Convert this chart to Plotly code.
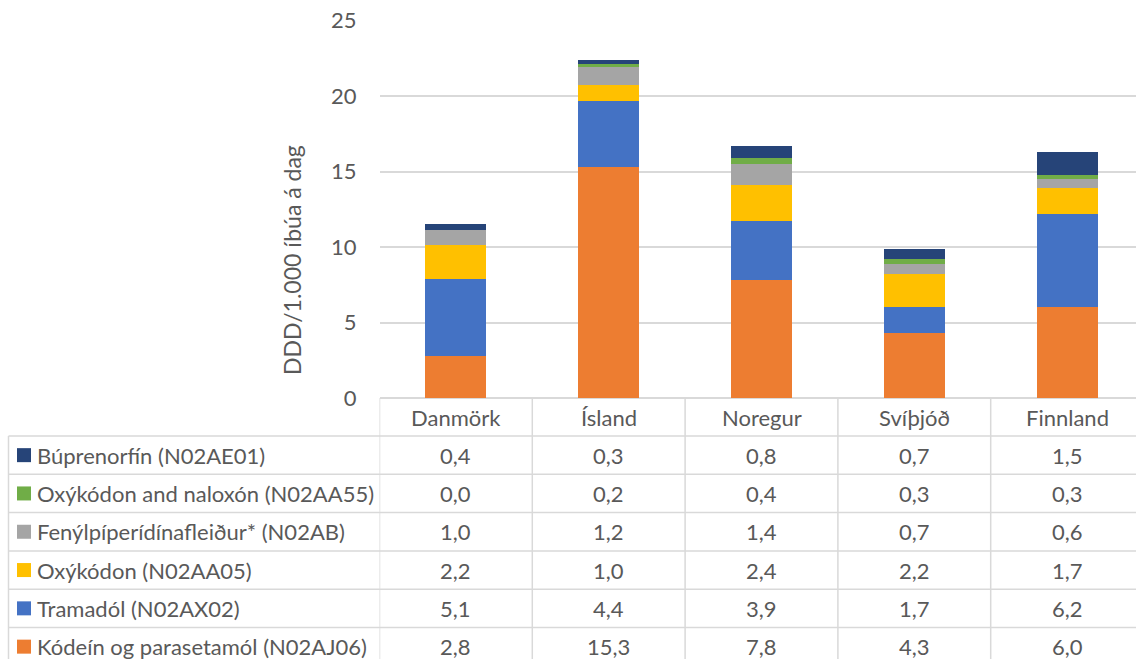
import plotly.graph_objects as go

# Countries (columns of the data table / x categories)
countries = ["Danmörk", "Ísland", "Noregur", "Svíþjóð", "Finnland"]

# DDD per 1.000 inhabitants per day, per substance group
kodein_parasetamol = [2.8, 15.3, 7.8, 4.3, 6.0]
tramadol = [5.1, 4.4, 3.9, 1.7, 6.2]
oxykodon = [2.2, 1.0, 2.4, 2.2, 1.7]
fenylpiperidin = [1.0, 1.2, 1.4, 0.7, 0.6]
oxykodon_nalokson = [0.0, 0.2, 0.4, 0.3, 0.3]
buprenorfin = [0.4, 0.3, 0.8, 0.7, 1.5]

series_names = [
    "Kódeín og parasetamól (N02AJ06)",
    "Tramadól (N02AX02)",
    "Oxýkódon (N02AA05)",
    "Fenýlpíperídínafleiður* (N02AB)",
    "Oxýkódon and naloxón (N02AA55)",
    "Búprenorfín (N02AE01)",
]
series_values = [kodein_parasetamol, tramadol, oxykodon, fenylpiperidin,
                 oxykodon_nalokson, buprenorfin]
series_colors = ["#ED7D31", "#4472C4", "#FFC000", "#A5A5A5", "#70AD47", "#264478"]

y_ticks = [0, 5, 10, 15, 20, 25]
y_title = "DDD/1.000 íbúa á dag"

W, H = 1136, 659
FONT = "Lato"
TEXT = "#595959"
GRID = "#D9D9D9"
FS = 22

# pixel layout helpers
def px(x):
    return x / W

def py(y):
    return 1 - y / H

plot_left, plot_top, plot_bottom = 379.5, 20.5, 398.0
col_w = 152.8
table_left = 8.5
header_bottom = 436.0
row_h = 38.3

fig = go.Figure()
for name, vals, col in zip(series_names, series_values, series_colors):
    fig.add_trace(go.Bar(
        x=countries, y=vals, name=name,
        marker=dict(color=col, line=dict(width=0)),
        hoverinfo="x+y+name",
    ))

x_right = -0.5 + (W - plot_left) / col_w

shapes = []
annotations = []

# column boundaries of the table (header + data rows)
n_rows = len(series_names)
table_bottom = header_bottom + n_rows * row_h
for i in range(len(countries) + 1):
    shapes.append(dict(type="line", xref="x", yref="paper",
                       x0=i - 0.5, x1=i - 0.5,
                       y0=py(plot_bottom), y1=py(table_bottom + 2),
                       line=dict(color=GRID, width=1.5)))
# left edge of legend column
shapes.append(dict(type="line", xref="paper", yref="paper",
                   x0=px(table_left), x1=px(table_left),
                   y0=py(header_bottom), y1=py(table_bottom + 2),
                   line=dict(color=GRID, width=1.5)))
# horizontal row lines
for r in range(n_rows + 1):
    yy = header_bottom + r * row_h
    shapes.append(dict(type="line", xref="paper", yref="paper",
                       x0=px(table_left), x1=1.0,
                       y0=py(yy), y1=py(yy),
                       line=dict(color=GRID, width=1.5)))

# header row: country names
for c in countries:
    annotations.append(dict(xref="x", yref="paper", x=c,
                            y=py((plot_bottom + header_bottom) / 2),
                            text=c, showarrow=False,
                            xanchor="center", yanchor="middle",
                            font=dict(family=FONT, size=FS, color=TEXT)))

# data rows, top row is the last stacked series
table_order = list(range(n_rows))[::-1]
for r, si in enumerate(table_order):
    yc = header_bottom + r * row_h + row_h / 2
    # legend key
    shapes.append(dict(type="rect", xref="paper", yref="paper",
                       x0=px(17), x1=px(31), y0=py(yc - 7), y1=py(yc + 7),
                       fillcolor=series_colors[si], line=dict(width=0)))
    annotations.append(dict(xref="paper", yref="paper", x=px(35), y=py(yc),
                            text=series_names[si], showarrow=False,
                            xanchor="left", yanchor="middle",
                            font=dict(family=FONT, size=FS, color=TEXT)))
    for c, v in zip(countries, series_values[si]):
        annotations.append(dict(xref="x", yref="paper", x=c, y=py(yc),
                                text=f"{v:.1f}".replace(".", ","),
                                showarrow=False,
                                xanchor="center", yanchor="middle",
                                font=dict(family=FONT, size=FS, color=TEXT)))

# rotated axis title
annotations.append(dict(xref="paper", yref="paper", x=px(292), y=py(260),
                        text=y_title, textangle=-90, showarrow=False,
                        xanchor="center", yanchor="middle",
                        font=dict(family=FONT, size=23, color=TEXT)))

fig.update_layout(
    width=W, height=H,
    margin=dict(l=0, r=0, t=0, b=0, autoexpand=False),
    paper_bgcolor="white", plot_bgcolor="white",
    barmode="stack", bargap=0.6,
    showlegend=False,
    font=dict(family=FONT, size=FS, color=TEXT),
    xaxis=dict(domain=[px(plot_left), 1.0], range=[-0.5, x_right],
               showticklabels=False, showgrid=False, zeroline=False,
               showline=False, fixedrange=True, automargin=False),
    yaxis=dict(domain=[py(plot_bottom), py(plot_top)], range=[0, 25],
               tickvals=y_ticks, ticks="", ticklabelstandoff=22,
               showgrid=True, gridcolor=GRID, gridwidth=1.5,
               zeroline=True, zerolinecolor=GRID, zerolinewidth=1.5,
               showline=False, automargin=False,
               tickfont=dict(family=FONT, size=FS, color=TEXT),
               fixedrange=True),
    shapes=shapes,
    annotations=annotations,
)

fig.write_html("out.html")
